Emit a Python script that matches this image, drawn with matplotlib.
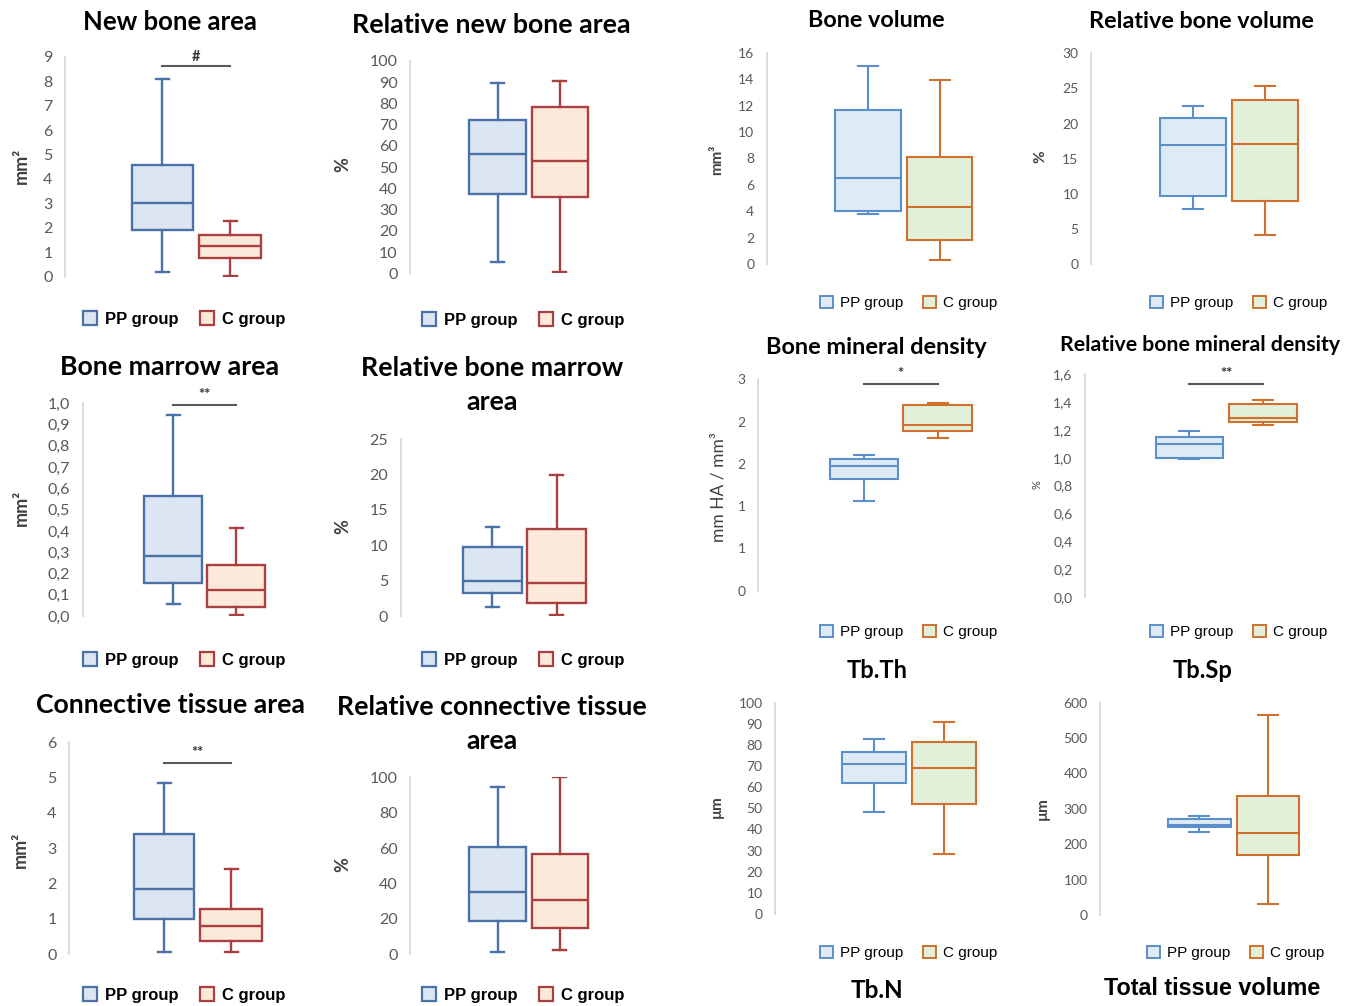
import matplotlib
matplotlib.use("Agg")
import matplotlib.pyplot as plt
from matplotlib.patches import Patch
from matplotlib.ticker import FixedLocator, FuncFormatter
import numpy as np

# box stats per group: [min, q1, median, q3, max]
groups = ["PP group", "C group"]

new_bone_pp = [0.2, 1.93, 3.0, 4.58, 8.1]
new_bone_c = [0.03, 0.75, 1.24, 1.71, 2.28]
rel_new_bone_pp = [5.3, 37.2, 56.2, 72.1, 89.6]
rel_new_bone_c = [0.8, 36.1, 53.1, 78.1, 90.4]
marrow_pp = [0.055, 0.154, 0.284, 0.566, 0.945]
marrow_c = [0.003, 0.044, 0.124, 0.238, 0.415]
rel_marrow_pp = [1.27, 3.21, 4.91, 9.72, 12.64]
rel_marrow_c = [0.14, 1.79, 4.72, 12.26, 20.0]
conn_pp = [0.06, 0.99, 1.84, 3.40, 4.85]
conn_c = [0.06, 0.385, 0.81, 1.27, 2.41]
rel_conn_pp = [1.1, 18.8, 35.0, 60.6, 94.5]
rel_conn_c = [2.3, 15.0, 30.5, 56.8, 100.0]

bone_vol_pp = [3.76, 3.99, 6.49, 11.66, 14.99]
bone_vol_c = [0.3, 1.82, 4.29, 8.1, 13.9]
rel_bone_vol_pp = [7.8, 9.7, 16.95, 20.75, 22.5]
rel_bone_vol_c = [4.13, 8.93, 17.05, 23.4, 25.35]
bmd_pp = [1.28, 1.59, 1.77, 1.87, 1.92]
bmd_c = [2.16, 2.26, 2.35, 2.63, 2.67]
rel_bmd_pp = [0.99, 0.996, 1.10, 1.15, 1.19]
rel_bmd_c = [1.236, 1.258, 1.284, 1.387, 1.416]
tbth_pp = [48.3, 61.8, 71.0, 76.8, 82.7]
tbth_c = [28.4, 51.9, 68.9, 81.4, 90.9]
tbsp_pp = [235, 248, 255, 270, 280]
tbsp_c = [31, 170, 231, 337, 564]

W, H = 1354, 1006
plt.rcParams['font.family'] = ['Lato', 'DejaVu Sans']
fig = plt.figure(figsize=(W / 100, H / 100), dpi=100)


def fx(x):
    return x / W


def fy(y):
    return 1 - y / H


LEFT = dict(pp_edge='#4A72A8', pp_fill='#DCE6F2', c_edge='#A9403F', c_fill='#FDE9D9',
            lw=1.7, cap=13, tick=11.5, leg_size=12, leg_weight='bold', leg_lw=1.6)
RIGHT = dict(pp_edge='#5B8FC9', pp_fill='#DEEBF7', c_edge='#D0702F', c_fill='#E2F0D9',
             lw=1.5, cap=20, tick=10, leg_size=11, leg_weight='normal', leg_lw=1.4)


def comma1(v, pos):
    return f"{v:.1f}".replace('.', ',')


def rounded(v, pos):
    return f"{int(np.floor(v + 0.5))}"


def intfmt(v, pos):
    return f"{v:g}"


panels = [
    dict(pp=new_bone_pp, c=new_bone_c, st=LEFT, ax_x=65, ytop=56.7, ybot=276.7,
         pp_box=(131.7, 192.7), c_box=(199, 261), ticks=np.arange(0, 10, 1), fmt=intfmt,
         title="New bone area", title_xy=(170, 22), title_size=18.5,
         leg_xy=(184, 319), ylabel="mm²", ylabel_xy=(21, 166), ylabel_size=13, ylabel_w='bold',
         sig=("#", 8.6)),
    dict(pp=rel_new_bone_pp, c=rel_new_bone_c, st=LEFT, ax_x=410, ytop=61, ybot=273.3,
         pp_box=(469.3, 526), c_box=(531.7, 587.7), ticks=np.arange(0, 101, 10), fmt=intfmt,
         title="Relative new bone area", title_xy=(491.7, 25), title_size=19.3,
         leg_xy=(523, 320), ylabel="%", ylabel_xy=(342.7, 165), ylabel_size=13, ylabel_w='bold'),
    dict(pp=marrow_pp, c=marrow_c, st=LEFT, ax_x=82.7, ytop=403.3, ybot=616,
         pp_box=(144, 202.3), c_box=(206.7, 265.3), ticks=np.arange(0, 1.01, 0.1), fmt=comma1,
         title="Bone marrow area", title_xy=(170, 366.7), title_size=19.3,
         leg_xy=(184, 660), ylabel="mm²", ylabel_xy=(21.7, 508), ylabel_size=13, ylabel_w='bold',
         sig=("**", 0.992)),
    dict(pp=rel_marrow_pp, c=rel_marrow_c, st=LEFT, ax_x=400.7, ytop=439.3, ybot=616,
         pp_box=(462.7, 521.7), c_box=(527.3, 585.7), ticks=np.arange(0, 26, 5), fmt=intfmt,
         title="Relative bone marrow\narea", title_xy=(491.7, 385.5), title_size=19.3,
         leg_xy=(523, 660), ylabel="%", ylabel_xy=(342.7, 526.7), ylabel_size=13, ylabel_w='bold'),
    dict(pp=conn_pp, c=conn_c, st=LEFT, ax_x=69, ytop=742.3, ybot=954.3,
         pp_box=(134, 194.3), c_box=(200, 262.3), ticks=np.arange(0, 7, 1), fmt=intfmt,
         title="Connective tissue area", title_xy=(170, 705), title_size=19.2,
         leg_xy=(184, 995), ylabel="mm²", ylabel_xy=(20, 850), ylabel_size=13, ylabel_w='bold',
         sig=("**", 5.41)),
    dict(pp=rel_conn_pp, c=rel_conn_c, st=LEFT, ax_x=410, ytop=777.3, ybot=954.3,
         pp_box=(469.3, 526), c_box=(531.7, 587.7), ticks=np.arange(0, 101, 20), fmt=intfmt,
         title="Relative connective tissue\narea", title_xy=(491.7, 724), title_size=19.2,
         leg_xy=(523, 995), ylabel="%", ylabel_xy=(342.7, 865), ylabel_size=13, ylabel_w='bold'),
    dict(pp=bone_vol_pp, c=bone_vol_c, st=RIGHT, ax_x=766.7, ytop=52.7, ybot=264,
         pp_box=(835, 900.7), c_box=(907.3, 972.3), ticks=np.arange(0, 17, 2), fmt=intfmt,
         title="Bone volume", title_xy=(876.7, 20.7), title_size=16.8,
         leg_xy=(909, 302.7), ylabel="mm³", ylabel_xy=(716.7, 160), ylabel_size=11, ylabel_w='bold'),
    dict(pp=rel_bone_vol_pp, c=rel_bone_vol_c, st=RIGHT, ax_x=1091, ytop=53.3, ybot=264,
         pp_box=(1160, 1225.7), c_box=(1232.3, 1298.3), ticks=np.arange(0, 31, 5), fmt=intfmt,
         title="Relative bone volume", title_xy=(1201.7, 22), title_size=16.8,
         leg_xy=(1239, 302.7), ylabel="%", ylabel_xy=(1040.7, 157), ylabel_size=11, ylabel_w='bold'),
    dict(pp=bmd_pp, c=bmd_c, st=RIGHT, ax_x=758.3, ytop=379.3, ybot=590.7,
         pp_box=(830, 897.7), c_box=(903.3, 971.7), ticks=np.linspace(0, 3, 6), fmt=rounded,
         title="Bone mineral density", title_xy=(876.7, 347.3), title_size=16.9,
         leg_xy=(909, 631.7), ylabel="mm HA / mm³", ylabel_xy=(718, 486.7), ylabel_size=12.5,
         ylabel_w='normal', sig=("*", 2.93)),
    dict(pp=rel_bmd_pp, c=rel_bmd_c, st=RIGHT, ax_x=1085, ytop=374.3, ybot=596.7,
         pp_box=(1156, 1222.7), c_box=(1229.3, 1296.7), ticks=np.linspace(0, 1.6, 9), fmt=comma1,
         title="Relative bone mineral density", title_xy=(1200, 345), title_size=15.3,
         leg_xy=(1239, 631.7), ylabel="%", ylabel_xy=(1036.7, 485), ylabel_size=8,
         ylabel_w='normal', sig=("**", 1.529)),
    dict(pp=tbth_pp, c=tbth_c, st=RIGHT, ax_x=775, ytop=702.7, ybot=914,
         pp_box=(841.7, 905.7), c_box=(911.7, 975.7), ticks=np.arange(0, 101, 10), fmt=intfmt,
         title="Tb.Th", title_xy=(876.7, 670.7), title_size=17,
         leg_xy=(909, 952.7), ylabel="µm", ylabel_xy=(716.7, 806.7), ylabel_size=11, ylabel_w='bold'),
    dict(pp=tbsp_pp, c=tbsp_c, st=RIGHT, ax_x=1100, ytop=702.7, ybot=915,
         pp_box=(1167.7, 1230.7), c_box=(1237.3, 1299.3), ticks=np.arange(0, 601, 100), fmt=intfmt,
         title="Tb.Sp", title_xy=(1202.7, 670), title_size=17,
         leg_xy=(1236, 952.7), ylabel="µm", ylabel_xy=(1042.7, 808.3), ylabel_size=11, ylabel_w='bold'),
]


def stats(vals, label):
    lo, q1, med, q3, hi = vals
    return dict(label=label, whislo=lo, q1=q1, med=med, q3=q3, whishi=hi, fliers=[])


for p in panels:
    st = p['st']
    c1 = sum(p['pp_box']) / 2
    c2 = sum(p['c_box']) / 2
    w1 = p['pp_box'][1] - p['pp_box'][0]
    w2 = p['c_box'][1] - p['c_box'][0]
    mid = (c1 + c2) / 2
    right = 2 * mid - p['ax_x']
    ax = fig.add_axes([fx(p['ax_x']), fy(p['ybot']), fx(right - p['ax_x']),
                       (p['ybot'] - p['ytop']) / H])
    ax.set_xlim(p['ax_x'], right)
    ax.set_ylim(p['ticks'][0], p['ticks'][-1])
    ax.patch.set_alpha(0)

    for vals, pos, wd, edge, fill in [(p['pp'], c1, w1, st['pp_edge'], st['pp_fill']),
                                      (p['c'], c2, w2, st['c_edge'], st['c_fill'])]:
        ax.bxp([stats(vals, '')], positions=[pos], widths=wd, capwidths=st['cap'],
               patch_artist=True, showfliers=False,
               boxprops=dict(facecolor=fill, edgecolor=edge, linewidth=st['lw']),
               medianprops=dict(color=edge, linewidth=st['lw']),
               whiskerprops=dict(color=edge, linewidth=st['lw']),
               capprops=dict(color=edge, linewidth=st['lw']), manage_ticks=False)

    for s in ['top', 'right', 'bottom']:
        ax.spines[s].set_visible(False)
    ax.spines['left'].set_color('#D9D9D9')
    ax.spines['left'].set_linewidth(1.3)
    ax.set_xticks([])
    ax.yaxis.set_major_locator(FixedLocator(p['ticks']))
    ax.yaxis.set_major_formatter(FuncFormatter(p['fmt']))
    ax.tick_params(axis='y', length=0, pad=9, labelsize=st['tick'], labelcolor='#595959')

    if 'sig' in p:
        label, yb = p['sig']
        ax.plot([c1, c2], [yb, yb], color='#595959', lw=1.5, clip_on=False)
        ax.annotate(label, xy=(mid, yb), xytext=(0, 2), textcoords='offset points',
                    ha='center', va='bottom', fontsize=10.5, color='#333333',
                    fontweight='bold', annotation_clip=False)

    fig.text(fx(p['title_xy'][0]), fy(p['title_xy'][1]), p['title'], ha='center', va='center',
             fontsize=p['title_size'], fontweight='bold', color='black', linespacing=1.5)
    fig.text(fx(p['ylabel_xy'][0]), fy(p['ylabel_xy'][1]), p['ylabel'], ha='center', va='center',
             rotation=90, fontsize=p['ylabel_size'], fontweight=p['ylabel_w'], color='#404040')

    handles = [Patch(facecolor=st['pp_fill'], edgecolor=st['pp_edge'], linewidth=st['leg_lw']),
               Patch(facecolor=st['c_fill'], edgecolor=st['c_edge'], linewidth=st['leg_lw'])]
    fig.legend(handles, groups, loc='center', bbox_to_anchor=(fx(p['leg_xy'][0]), fy(p['leg_xy'][1])),
               ncol=2, frameon=False, handlelength=0.85, handleheight=0.85, handletextpad=0.45,
               columnspacing=1.3, borderpad=0,
               prop=dict(family=['Liberation Sans', 'DejaVu Sans'], weight=st['leg_weight'],
                         size=st['leg_size']))

fig.text(fx(876.7), fy(990), "Tb.N", ha='center', va='center', fontsize=17.5, fontweight='bold')
fig.text(fx(1211.7), fy(988.3), "Total tissue volume", ha='center', va='center', fontsize=16.8,
         fontweight='bold', family=['Liberation Sans', 'DejaVu Sans'])

fig.savefig("out.png", dpi=100, facecolor='white')
